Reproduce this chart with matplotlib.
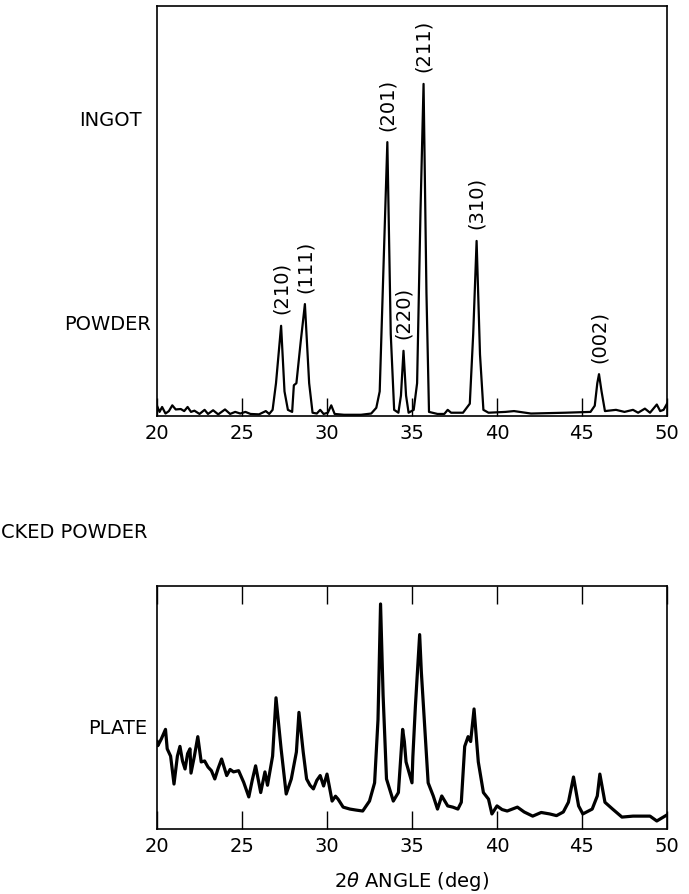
import matplotlib.pyplot as plt

# XRD traces (2-theta in deg, intensity in arbitrary units 0-100)
top_x = [20.0, 20.15, 20.3, 20.5, 20.7, 20.9, 21.1, 21.4, 21.6, 21.8, 22.0, 22.2, 22.5,
         22.8, 23.0, 23.3, 23.6, 24.0, 24.3, 24.6, 24.9, 25.2, 25.5, 26.0, 26.4, 26.6,
         26.8, 27.0, 27.3, 27.5, 27.7, 27.95, 28.05, 28.2, 28.45, 28.7, 28.95, 29.15,
         29.4, 29.6, 29.8, 30.05, 30.25, 30.45, 31.0, 32.0, 32.6, 32.9, 33.1, 33.35,
         33.55, 33.75, 33.95, 34.2, 34.35, 34.5, 34.65, 34.8, 35.1, 35.3, 35.5, 35.68,
         35.85, 36.0, 36.5, 36.9, 37.1, 37.3, 38.0, 38.4, 38.6, 38.8, 39.0, 39.2, 39.5,
         40.5, 41.0, 42.0, 44.0, 45.5, 45.75, 45.9, 46.0, 46.15, 46.35, 47.0, 47.5,
         48.0, 48.3, 48.7, 49.0, 49.4, 49.6, 49.8, 50.0]
top_y = [2.5, 1.0, 2.2, 0.6, 1.2, 2.6, 1.6, 1.7, 1.2, 2.2, 1.0, 1.3, 0.5,
         1.5, 0.5, 1.4, 0.4, 1.6, 0.5, 1.0, 0.6, 1.0, 0.5, 0.4, 1.2, 0.5,
         1.5, 8.0, 22.0, 6.0, 1.5, 1.0, 7.5, 8.0, 18.0, 27.3, 8.0, 0.8,
         0.6, 1.5, 0.5, 0.8, 2.6, 0.5, 0.3, 0.3, 0.6, 2.0, 6.0, 40.0,
         66.8, 20.0, 1.5, 0.8, 5.0, 15.9, 5.0, 0.8, 1.5, 8.0, 50.0, 81.0,
         30.0, 1.0, 0.5, 0.5, 1.5, 0.8, 0.8, 3.0, 20.0, 42.7, 15.0, 1.5, 0.8,
         1.0, 1.2, 0.6, 0.8, 1.0, 2.5, 8.0, 10.2, 6.0, 1.2, 1.5, 1.0,
         1.5, 0.8, 1.8, 0.8, 2.8, 1.2, 1.5, 3.0]

bot_x = [20.0, 20.05, 20.25, 20.5, 20.6, 20.8, 21.0, 21.2, 21.35, 21.5, 21.65, 21.8,
         21.94, 22.0, 22.2, 22.4, 22.6, 22.8, 23.0, 23.2, 23.4, 23.6, 23.8, 24.1,
         24.3, 24.5, 24.8, 25.1, 25.4, 25.6, 25.8, 26.1, 26.35, 26.5, 26.8, 27.0,
         27.3, 27.6, 27.9, 28.2, 28.35, 28.6, 28.8, 29.0, 29.2, 29.4, 29.6, 29.8,
         30.0, 30.3, 30.5, 30.65, 30.95, 31.35, 31.7, 32.1, 32.5, 32.8, 33.0, 33.15,
         33.3, 33.5, 33.9, 34.2, 34.45, 34.55, 34.65, 35.0, 35.05, 35.2, 35.45, 35.55,
         35.95, 36.25, 36.5, 36.75, 37.1, 37.4, 37.7, 37.9, 38.1, 38.3, 38.45, 38.65,
         38.9, 39.2, 39.5, 39.7, 40.0, 40.3, 40.6, 41.2, 41.6, 42.1, 42.6, 43.1,
         43.5, 43.9, 44.2, 44.5, 44.8, 45.05, 45.6, 45.9, 46.05, 46.35, 46.8, 47.35,
         48.0, 49.0, 49.4, 50.0]
bot_y = [36.0, 34.3, 37.0, 41.0, 33.0, 30.0, 18.5, 30.0, 34.0, 28.0, 24.7, 31.0,
         33.0, 23.0, 30.0, 38.0, 27.6, 28.0, 25.5, 24.0, 20.6, 25.0, 28.8, 22.0,
         24.5, 23.5, 24.0, 19.2, 13.2, 20.0, 26.0, 15.0, 23.5, 18.0, 30.0, 54.0,
         33.0, 14.4, 20.6, 31.7, 48.0, 31.7, 20.6, 18.0, 16.5, 20.0, 22.0, 17.7,
         22.6, 11.5, 13.5, 12.3, 9.0, 8.2, 7.8, 7.4, 11.5, 19.0, 45.0, 92.6,
         55.0, 20.6, 11.5, 15.0, 41.0, 36.0, 27.6, 19.0, 29.6, 50.6, 80.0, 64.6,
         19.0, 13.6, 8.2, 13.6, 9.5, 9.0, 8.2, 11.0, 34.0, 38.0, 36.0, 49.4,
         27.6, 15.0, 12.3, 6.2, 9.5, 8.0, 7.4, 9.0, 7.0, 5.3, 6.8, 6.2,
         5.5, 7.0, 11.0, 21.4, 9.5, 6.2, 8.2, 13.6, 22.6, 11.0, 8.2, 4.9,
         5.3, 5.3, 3.3, 5.8]

peak_labels = ["(210)", "(111)", "(201)", "(220)", "(211)", "(310)", "(002)"]
peak_pos = [27.3, 28.7, 33.55, 34.5, 35.68, 38.8, 46.0]
peak_height = [22.0, 27.3, 66.8, 15.9, 81.0, 42.7, 10.2]

ticks = [20, 25, 30, 35, 40, 45, 50]

W, H = 689, 895
fig = plt.figure(figsize=(W / 100, H / 100), dpi=100)

def box(x0, y0, x1, y1):
    # pixel box (top-left origin) -> figure fractions
    return [x0 / W, 1 - y1 / H, (x1 - x0) / W, (y1 - y0) / H]

# top panel: ingot / powder
ax1 = fig.add_axes(box(157, 7, 667, 417))
ax1.plot(top_x, top_y, color='black', lw=1.6)
ax1.set_xlim(20, 50)
ax1.set_ylim(0, 100)
ax1.set_yticks([])
ax1.set_xticks(ticks)
ax1.tick_params(axis='x', direction='in', length=13, width=1.0, labelsize=14, pad=5)
for s in ax1.spines.values():
    s.set_linewidth(1.2)
for lab, x, h in zip(peak_labels, peak_pos, peak_height):
    ax1.annotate(lab, (x, h), xytext=(0, 9), textcoords='offset points',
                 rotation=90, ha='center', va='bottom', fontsize=14)

# bottom panel: plate
ax2 = fig.add_axes(box(157, 587, 667, 830))
ax2.plot(bot_x, bot_y, color='black', lw=2.3)
ax2.set_xlim(20, 50)
ax2.set_ylim(0, 100)
ax2.set_yticks([])
ax2.set_xticks(ticks)
ax2.tick_params(axis='x', direction='in', length=13, width=1.0, labelsize=14, pad=5,
                top=True)
for s in ax2.spines.values():
    s.set_linewidth(1.2)
ax2.set_xlabel(r"2$\theta$ ANGLE (deg)", fontsize=14, labelpad=10)

# side labels
fig.text(110 / W, 1 - 120 / H, "INGOT", ha='center', va='center', fontsize=14)
fig.text(108 / W, 1 - 325 / H, "POWDER", ha='center', va='center', fontsize=14)
fig.text(1 / W, 1 - 532 / H, "CKED POWDER", ha='left', va='center', fontsize=14)
fig.text(118 / W, 1 - 728 / H, "PLATE", ha='center', va='center', fontsize=14)

fig.savefig("out.png", dpi=100)
